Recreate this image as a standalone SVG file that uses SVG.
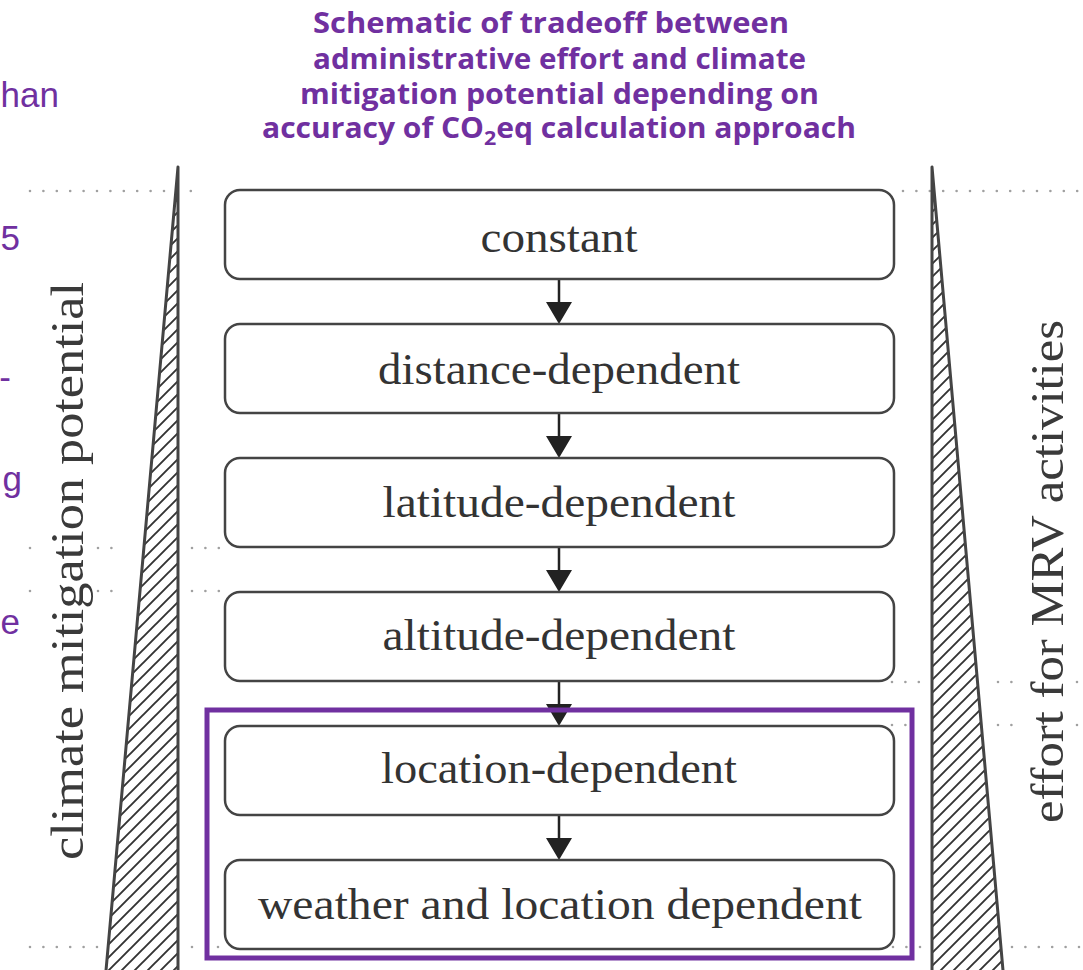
<svg xmlns="http://www.w3.org/2000/svg" width="1083" height="970" viewBox="0 0 1083 970">
<style>
.title{font-family:"Open Sans","Liberation Sans",sans-serif;font-weight:700;font-size:28px;fill:#7030A0}
.clip{font-family:"Liberation Sans",Arial,sans-serif;font-size:35px;fill:#7030A0;text-anchor:end}
.box{fill:#fff;stroke:#444;stroke-width:2.5}
.lbl{font-family:"Liberation Serif","DejaVu Serif",serif;font-size:45px;fill:#333;text-anchor:middle}
.axis{font-family:"Liberation Serif","DejaVu Serif",serif;font-size:46px;fill:#3a3a3a;text-anchor:middle}
.dots{stroke:#a0a0a0;stroke-width:2.6;stroke-linecap:round;stroke-dasharray:0 13.4;fill:none}
.wedge{fill:url(#hatch);stroke:#444;stroke-width:3;stroke-linejoin:round}
.conn{stroke:#222;stroke-width:2.5;fill:none}
.head{fill:#222}
</style>
<defs>
<pattern id="hatch" patternUnits="userSpaceOnUse" width="13" height="13">
<rect width="13" height="13" fill="#fff"/>
<path d="M-2,2 L2,-2 M0,13 L13,0 M11,15 L15,11" stroke="#333" stroke-width="1.9"/>
</pattern>
</defs>

<g id="clipped-text">
<text class="clip" x="59" y="107">han</text>
<text class="clip" x="20" y="250">5</text>
<text class="clip" x="11" y="389">-</text>
<text class="clip" x="22" y="491">g</text>
<text class="clip" x="20" y="634">e</text>
</g>

<g id="title">
<text class="title" x="313" y="33" textLength="476" lengthAdjust="spacingAndGlyphs">Schematic of tradeoff between</text>
<text class="title" x="313" y="69" textLength="493" lengthAdjust="spacingAndGlyphs">administrative effort and climate</text>
<text class="title" x="300" y="104" textLength="519" lengthAdjust="spacingAndGlyphs">mitigation potential depending on</text>
<text class="title" x="262" y="138" textLength="594" lengthAdjust="spacingAndGlyphs">accuracy of CO<tspan dy="7" font-size="20">2</tspan><tspan dy="-7">eq calculation approach</tspan></text>
</g>

<g id="dotted-lines">
<path class="dots" d="M30,191 H200 M903,191 H1083"/>
<path class="dots" d="M30,548 H31 M98,548 H112 M192,548 H220"/>
<path class="dots" d="M30,591 H31 M98,591 H112 M192,591 H220"/>
<path class="dots" d="M892,682 H920 M998,682 H1013 M1077,682 H1078"/>
<path class="dots" d="M892,725 H906 M998,725 H1013 M1077,725 H1078"/>
<path class="dots" d="M30,947 H98 M192,947 H193 M218,947 H219 M893,947 H908 M920,947 H921 M1012,947 H1080"/>
</g>

<g id="wedge-left">
<path class="wedge" d="M178,167 L178,976 L105.5,976 Z"/>
</g>
<g id="wedge-right">
<path class="wedge" d="M932,167 L932,976 L1003.5,976 Z"/>
</g>

<g id="axis-left">
<text class="axis" transform="translate(83,571) rotate(-90)" textLength="578" lengthAdjust="spacingAndGlyphs">climate mitigation potential</text>
</g>
<g id="axis-right">
<text class="axis" transform="translate(1063,571.5) rotate(-90)" textLength="503" lengthAdjust="spacingAndGlyphs">effort for MRV activities</text>
</g>

<g id="connectors">
<path class="conn" d="M559,279 V303 M559,413 V437 M559,547 V571 M559,681 V705 M559,815 V839"/>
<path class="head" d="M546,302 L572,302 L559,324 Z M546,436 L572,436 L559,458 Z M546,570 L572,570 L559,592 Z M546,704 L572,704 L559,726 Z M546,838 L572,838 L559,860 Z"/>
</g>

<g id="node-constant">
<rect class="box" x="225" y="190" width="669" height="89" rx="15"/>
<text class="lbl" x="559" y="252" textLength="157" lengthAdjust="spacingAndGlyphs">constant</text>
</g>
<g id="node-distance">
<rect class="box" x="225" y="324" width="669" height="89" rx="15"/>
<text class="lbl" x="559" y="384" textLength="362" lengthAdjust="spacingAndGlyphs">distance-dependent</text>
</g>
<g id="node-latitude">
<rect class="box" x="225" y="458" width="669" height="89" rx="15"/>
<text class="lbl" x="559" y="517" textLength="353" lengthAdjust="spacingAndGlyphs">latitude-dependent</text>
</g>
<g id="node-altitude">
<rect class="box" x="225" y="592" width="669" height="89" rx="15"/>
<text class="lbl" x="559" y="650" textLength="353" lengthAdjust="spacingAndGlyphs">altitude-dependent</text>
</g>
<g id="node-location">
<rect class="box" x="225" y="726" width="669" height="89" rx="15"/>
<text class="lbl" x="559" y="783" textLength="356" lengthAdjust="spacingAndGlyphs">location-dependent</text>
</g>
<g id="node-weather">
<rect class="box" x="225" y="860" width="669" height="89" rx="15"/>
<text class="lbl" x="560" y="919" textLength="604" lengthAdjust="spacingAndGlyphs">weather and location dependent</text>
</g>

<g id="highlight">
<rect x="207" y="710" width="705" height="248" fill="none" stroke="#7030A0" stroke-width="5"/>
</g>
</svg>
